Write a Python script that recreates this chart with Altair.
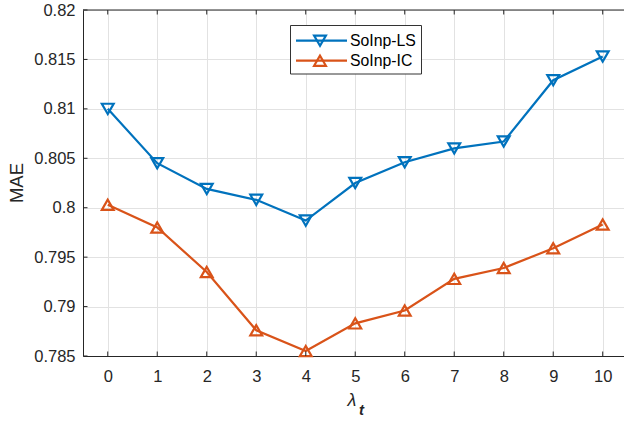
import altair as alt
import pandas as pd

# λ_t values on the x axis
lam = [0, 1, 2, 3, 4, 5, 6, 7, 8, 9, 10]
# MAE for each method
mae_ls = [0.8100, 0.8045, 0.8019, 0.8008, 0.7987, 0.8025, 0.8046, 0.8060, 0.8067, 0.8129, 0.8153]
mae_ic = [0.8003, 0.7980, 0.7935, 0.7876, 0.7855, 0.7883, 0.7896, 0.7928, 0.7939, 0.7959, 0.7983]

series_names = ["SoInp-LS", "SoInp-IC"]
series_colors = ["#0072BD", "#D95319"]
series_shapes = ["triangle-down", "triangle-up"]

y_ticks = [0.785, 0.79, 0.795, 0.8, 0.805, 0.81, 0.815, 0.82]

W, H = 541, 346
FONT = "Liberation Sans"
AXIS_COLOR = "#262626"
MARKER_SIZE = 140

df = pd.DataFrame({
    "lam": lam * 2,
    "mae": mae_ls + mae_ic,
    "series": [series_names[0]] * len(lam) + [series_names[1]] * len(lam),
})

x_scale = alt.Scale(domain=[-0.5, 10.43], nice=False, zero=False)
y_scale = alt.Scale(domain=[0.785, 0.82], nice=False, zero=False)
color_scale = alt.Scale(domain=series_names, range=series_colors)
shape_scale = alt.Scale(domain=series_names, range=series_shapes)

x_enc = alt.X("lam:Q", scale=x_scale,
              axis=alt.Axis(values=lam, format="d", title=None, grid=True,
                            ticks=False, tickSize=0, labelPadding=12))
y_enc = alt.Y("mae:Q", scale=y_scale,
              axis=alt.Axis(values=y_ticks, format="~g", title=None, grid=True,
                            ticks=False, tickSize=0, labelPadding=8))

lines = alt.Chart(df).mark_line(strokeWidth=2.2).encode(
    x=x_enc, y=y_enc,
    color=alt.Color("series:N", scale=color_scale, legend=None),
    detail="series:N",
)

points = alt.Chart(df).mark_point(filled=False, size=MARKER_SIZE, strokeWidth=2.2, opacity=1).encode(
    x=alt.X("lam:Q", scale=x_scale),
    y=alt.Y("mae:Q", scale=y_scale),
    color=alt.Color("series:N", scale=color_scale, legend=None),
    shape=alt.Shape("series:N", scale=shape_scale, legend=None),
)

# inward tick marks on bottom, top and left edges
xt = pd.DataFrame({"lam": lam})
yt = pd.DataFrame({"mae": y_ticks})
tick_bottom = alt.Chart(xt).mark_rule(color=AXIS_COLOR, strokeWidth=1).encode(
    x=alt.X("lam:Q", scale=x_scale), y=alt.value(H), y2=alt.value(H - 4.5))
tick_top = alt.Chart(xt).mark_rule(color=AXIS_COLOR, strokeWidth=1).encode(
    x=alt.X("lam:Q", scale=x_scale), y=alt.value(0), y2=alt.value(4.5))
tick_left = alt.Chart(yt).mark_rule(color=AXIS_COLOR, strokeWidth=1).encode(
    y=alt.Y("mae:Q", scale=y_scale), x=alt.value(0), x2=alt.value(4.5))

one = alt.Data(values=[{"k": 1}])
top_border = alt.Chart(one).mark_rule(color=AXIS_COLOR, strokeWidth=1).encode(
    x=alt.value(0), x2=alt.value(W + 10), y=alt.value(0))

# axis titles: y "MAE", x λ with bold-italic subscript t
y_title = alt.Chart(one).mark_text(text="MAE", font=FONT, fontSize=18.5, angle=270,
                                   color=AXIS_COLOR, align="center", baseline="middle").encode(
    x=alt.value(-66), y=alt.value(H / 2))
x_title_main = alt.Chart(one).mark_text(text="λ", font=FONT, fontSize=18, fontStyle="italic",
                                        color=AXIS_COLOR, align="center", baseline="alphabetic").encode(
    x=alt.value(269), y=alt.value(396))
x_title_sub = alt.Chart(one).mark_text(text="t", font=FONT, fontSize=15, fontStyle="italic",
                                       fontWeight="bold", color=AXIS_COLOR, align="center",
                                       baseline="alphabetic").encode(
    x=alt.value(278.5), y=alt.value(405))

# legend box
legend_box = alt.Chart(one).mark_rect(fill="white", stroke="#333333", strokeWidth=1).encode(
    x=alt.value(207.5), x2=alt.value(338.5), y=alt.value(15.5), y2=alt.value(64))
legend_layers = [legend_box]
for i, (name, col, shp) in enumerate(zip(series_names, series_colors, series_shapes)):
    ry = 30.7 + 20 * i
    legend_layers.append(alt.Chart(one).mark_rule(color=col, strokeWidth=2.2).encode(
        x=alt.value(213), x2=alt.value(264), y=alt.value(ry)))
    legend_layers.append(alt.Chart(one).mark_point(shape=shp, filled=False, size=MARKER_SIZE,
                                                   strokeWidth=2.2, color=col, opacity=1).encode(
        x=alt.value(237), y=alt.value(ry)))
    legend_layers.append(alt.Chart(one).mark_text(text=name, font=FONT, fontSize=15.8,
                                                  color="#000000", align="left",
                                                  baseline="middle").encode(
        x=alt.value(267), y=alt.value(ry + 0.5)))

chart = alt.layer(
    lines, points, tick_bottom, tick_top, tick_left, top_border,
    y_title, x_title_main, x_title_sub, *legend_layers,
).properties(
    width=W, height=H,
    padding={"left": 83, "top": 10, "right": 0, "bottom": 66},
    autosize=alt.AutoSizeParams(type="none"),
    background="white",
).configure_view(
    stroke=None,
).configure_axis(
    labelFont=FONT, labelFontSize=16.5, labelColor=AXIS_COLOR,
    domainColor=AXIS_COLOR, domainWidth=1,
    gridColor="#e2e2e2", gridWidth=1, gridOpacity=1,
)

chart.save("out.html", embed_options={"renderer": "svg", "actions": False})
